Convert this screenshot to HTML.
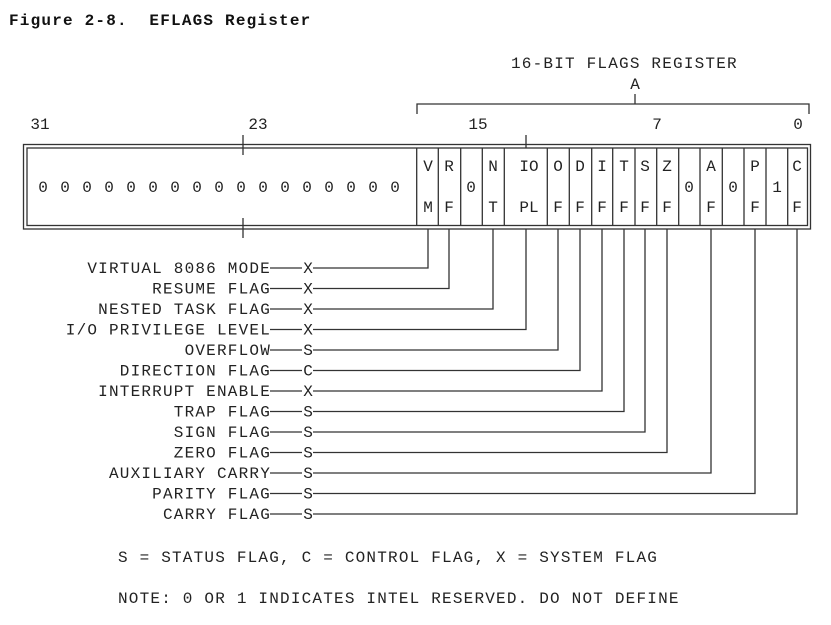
<!DOCTYPE html>
<html><head><meta charset="utf-8"><style>
html,body{margin:0;padding:0;background:#fff;}
svg{display:block;}
text{font-family:"Liberation Mono",monospace;font-size:16px;letter-spacing:1.2px;fill:#222;}
.c{text-anchor:middle;letter-spacing:0;}
.e{text-anchor:end;}
</style></head><body>
<svg width="831" height="625" viewBox="0 0 831 625" xmlns="http://www.w3.org/2000/svg">
<text x="9" y="25" style="font-weight:bold;fill:#111">Figure 2-8.&#160; EFLAGS Register</text>
<text x="511" y="68">16-BIT FLAGS REGISTER</text>
<text class="c" x="635" y="89">A</text>
<g stroke="#333" stroke-width="1.3" fill="none">
<path d="M417 114 V104 H809 V114 M635 94 V104"/>
<rect x="23.5" y="144.5" width="787" height="84.5"/>
<rect x="27" y="148" width="780.5" height="77.5"/>
<path d="M243 135 V155 M243 218 V238 M526 135 V148"/>
<path d="M416.7 148V225 M438.3 148V225 M460.7 148V225 M482.3 148V225 M504.3 148V225 M547.3 148V225 M569.3 148V225 M591.7 148V225 M612.7 148V225 M635 148V225 M656.7 148V225 M678.7 148V225 M700 148V225 M722.3 148V225 M744 148V225 M766 148V225 M787.7 148V225"/>
</g>
<text class="c" x="40" y="129">31</text>
<text class="c" x="258" y="129">23</text>
<text class="c" x="478" y="129">15</text>
<text class="c" x="657" y="129">7</text>
<text class="c" x="798" y="129">0</text>
<g>
<text class="c" x="43" y="192">0</text><text class="c" x="65" y="192">0</text><text class="c" x="87" y="192">0</text><text class="c" x="109" y="192">0</text><text class="c" x="131" y="192">0</text><text class="c" x="153" y="192">0</text><text class="c" x="175" y="192">0</text><text class="c" x="197" y="192">0</text><text class="c" x="219" y="192">0</text><text class="c" x="241" y="192">0</text><text class="c" x="263" y="192">0</text><text class="c" x="285" y="192">0</text><text class="c" x="307" y="192">0</text><text class="c" x="329" y="192">0</text><text class="c" x="351" y="192">0</text><text class="c" x="373" y="192">0</text><text class="c" x="395" y="192">0</text>
</g>
<text class="c" x="428" y="171">V</text><text class="c" x="428" y="212">M</text>
<text class="c" x="449" y="171">R</text><text class="c" x="449" y="212">F</text>
<text class="c" x="471" y="192">0</text>
<text class="c" x="493" y="171">N</text><text class="c" x="493" y="212">T</text>
<text class="c" x="529" y="171">IO</text><text class="c" x="529" y="212">PL</text>
<text class="c" x="558" y="171">O</text><text class="c" x="558" y="212">F</text>
<text class="c" x="580" y="171">D</text><text class="c" x="580" y="212">F</text>
<text class="c" x="602" y="171">I</text><text class="c" x="602" y="212">F</text>
<text class="c" x="624" y="171">T</text><text class="c" x="624" y="212">F</text>
<text class="c" x="645" y="171">S</text><text class="c" x="645" y="212">F</text>
<text class="c" x="667" y="171">Z</text><text class="c" x="667" y="212">F</text>
<text class="c" x="689" y="192">0</text>
<text class="c" x="711" y="171">A</text><text class="c" x="711" y="212">F</text>
<text class="c" x="733" y="192">0</text>
<text class="c" x="755" y="171">P</text><text class="c" x="755" y="212">F</text>
<text class="c" x="777" y="192">1</text>
<text class="c" x="797" y="171">C</text><text class="c" x="797" y="212">F</text>
<g stroke="#333" stroke-width="1.3" fill="none">
<path d="M428 229V268H313 M449 229V288.5H313 M493 229V309H313 M526 229V329.5H313 M558 229V350H313 M580 229V370.5H313 M602 229V391H313 M624 229V411.5H313 M645 229V432H313 M667 229V452.5H313 M711 229V473H313 M755 229V493.5H313 M797 229V514H313"/>
<path d="M270 268H302 M270 288.5H302 M270 309H302 M270 329.5H302 M270 350H302 M270 370.5H302 M270 391H302 M270 411.5H302 M270 432H302 M270 452.5H302 M270 473H302 M270 493.5H302 M270 514H302"/>
</g>
<g>
<text class="e" x="271" y="273">VIRTUAL 8086 MODE</text>
<text class="e" x="271" y="293.5">RESUME FLAG</text>
<text class="e" x="271" y="314">NESTED TASK FLAG</text>
<text class="e" x="271" y="334.5">I/O PRIVILEGE LEVEL</text>
<text class="e" x="271" y="355">OVERFLOW</text>
<text class="e" x="271" y="375.5">DIRECTION FLAG</text>
<text class="e" x="271" y="396">INTERRUPT ENABLE</text>
<text class="e" x="271" y="416.5">TRAP FLAG</text>
<text class="e" x="271" y="437">SIGN FLAG</text>
<text class="e" x="271" y="457.5">ZERO FLAG</text>
<text class="e" x="271" y="478">AUXILIARY CARRY</text>
<text class="e" x="271" y="498.5">PARITY FLAG</text>
<text class="e" x="271" y="519">CARRY FLAG</text>
</g>
<text class="c" x="308" y="273">X</text>
<text class="c" x="308" y="293.5">X</text>
<text class="c" x="308" y="314">X</text>
<text class="c" x="308" y="334.5">X</text>
<text class="c" x="308" y="355">S</text>
<text class="c" x="308" y="375.5">C</text>
<text class="c" x="308" y="396">X</text>
<text class="c" x="308" y="416.5">S</text>
<text class="c" x="308" y="437">S</text>
<text class="c" x="308" y="457.5">S</text>
<text class="c" x="308" y="478">S</text>
<text class="c" x="308" y="498.5">S</text>
<text class="c" x="308" y="519">S</text>
<text x="118" y="562">S = STATUS FLAG, C = CONTROL FLAG, X = SYSTEM FLAG</text>
<text x="118" y="603">NOTE: 0 OR 1 INDICATES INTEL RESERVED. DO NOT DEFINE</text>
</svg>
</body></html>
